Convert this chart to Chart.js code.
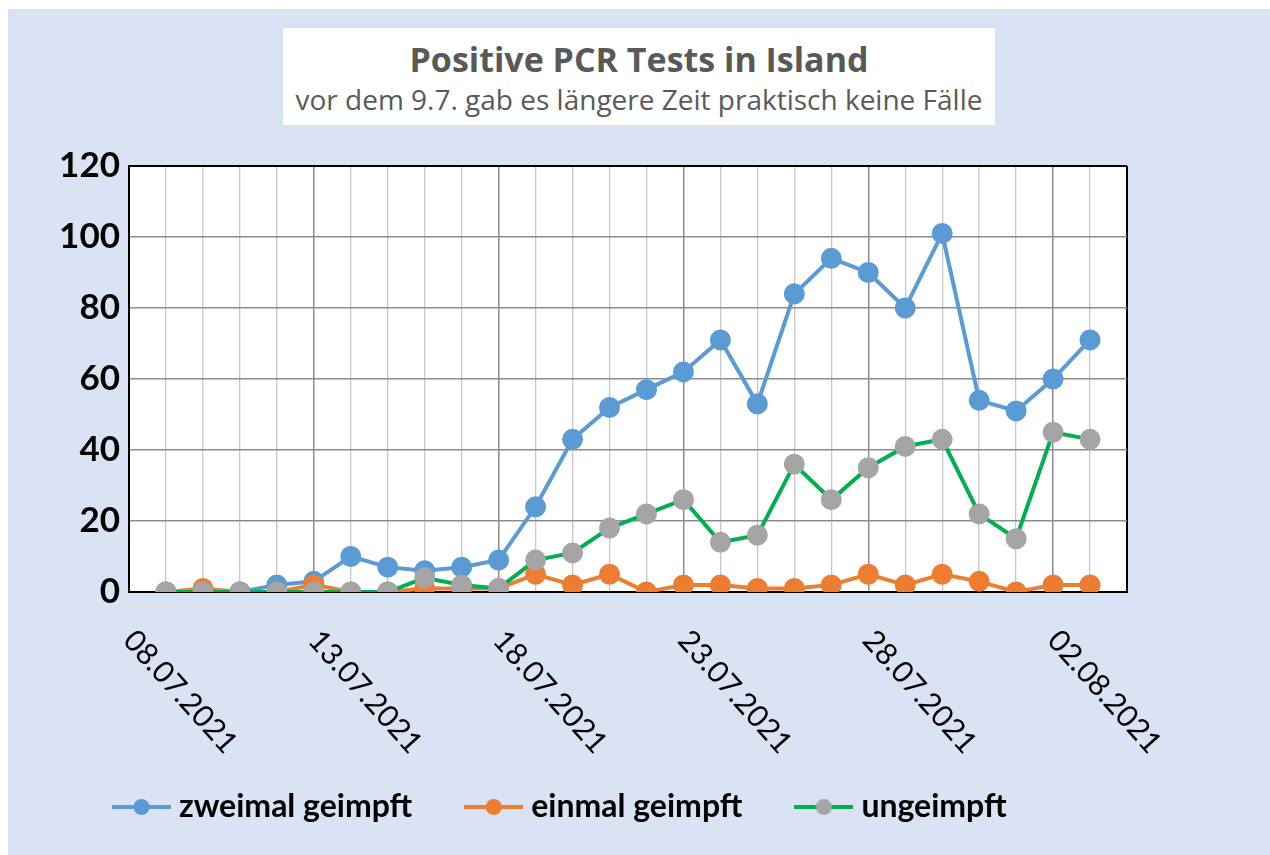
<!DOCTYPE html>
<html lang="de">
<head>
<meta charset="utf-8">
<title>Positive PCR Tests in Island</title>
<script src="https://cdn.jsdelivr.net/npm/chart.js@4"></script>
<style>
    body { margin: 0; background: #fff; }
    #rahmen {
        position: absolute; left: 8px; top: 9px;
        width: 1262px; height: 846px;
        background: #dae3f3;
    }
    #titelBox {
        position: absolute; left: 275px; top: 19px;
        width: 712px; height: 97px;
        background: #fff;
        text-align: center;
        color: #595959;
        font-family: "Open Sans", Lato, sans-serif;
    }
    #titelBox .haupt { font-size: 34px; font-weight: bold; line-height: 42px; margin-top: 10px; }
    #titelBox .unter { font-size: 28px; line-height: 36px; margin-top: 1px; }
</style>
</head>
<body>
<div id="rahmen">
    <canvas id="pcrChart"></canvas>
    <div id="titelBox">
        <div class="haupt">Positive PCR Tests in Island</div>
        <div class="unter">vor dem 9.7. gab es längere Zeit praktisch keine Fälle</div>
    </div>
</div>
<script>
// Achse läuft vom 08.07. bis 04.08., Daten gibt es vom 09.07. bis 03.08.
const tage = [
    "08.07.2021", "09.07.2021", "10.07.2021", "11.07.2021", "12.07.2021", "13.07.2021", "14.07.2021",
    "15.07.2021", "16.07.2021", "17.07.2021", "18.07.2021", "19.07.2021", "20.07.2021", "21.07.2021",
    "22.07.2021", "23.07.2021", "24.07.2021", "25.07.2021", "26.07.2021", "27.07.2021", "28.07.2021",
    "29.07.2021", "30.07.2021", "31.07.2021", "01.08.2021", "02.08.2021", "03.08.2021", "04.08.2021"
];

const zweimalGeimpft = [null, 0, 0, 0, 2, 3, 10, 7, 6, 7, 9, 24, 43, 52, 57, 62, 71, 53, 84, 94, 90, 80, 101, 54, 51, 60, 71, null];
const einmalGeimpft  = [null, 0, 1, 0, 0, 2, 0, 0, 1, 1, 1, 5, 2, 5, 0, 2, 2, 1, 1, 2, 5, 2, 5, 3, 0, 2, 2, null];
const ungeimpft      = [null, 0, 0, 0, 0, 0, 0, 0, 4, 2, 1, 9, 11, 18, 22, 26, 14, 16, 36, 26, 35, 41, 43, 22, 15, 45, 43, null];

const yTicks = [0, 20, 40, 60, 80, 100, 120];

const blau = "#5b9bd5";
const orange = "#ed7d31";
const gruen = "#00b050";
const grau = "#a5a5a5";

// kleines Symbol für die Legende: Linie mit Punkt in der Mitte
function legendenSymbol(linie, punkt) {
    const c = document.createElement("canvas");
    c.width = 59;
    c.height = 20;
    const g = c.getContext("2d");
    g.strokeStyle = linie;
    g.lineWidth = 4;
    g.beginPath();
    g.moveTo(0, 10);
    g.lineTo(59, 10);
    g.stroke();
    g.fillStyle = punkt;
    g.beginPath();
    g.arc(29.5, 10, 8, 0, 2 * Math.PI);
    g.fill();
    return c;
}
const symbole = [legendenSymbol(blau, blau), legendenSymbol(orange, orange), legendenSymbol(gruen, grau)];

// weißer Hintergrund der Zeichenfläche
const plotHintergrund = {
    id: "plotHintergrund",
    beforeDraw(chart) {
        const { ctx, chartArea } = chart;
        ctx.save();
        ctx.fillStyle = "#fff";
        ctx.fillRect(chartArea.left, chartArea.top, chartArea.right - chartArea.left, chartArea.bottom - chartArea.top);
        ctx.restore();
    }
};

// Datumsbeschriftung schräg nach unten (wie in Excel), alle 5 Tage
const datumsLabels = {
    id: "datumsLabels",
    afterDraw(chart) {
        const { ctx, chartArea } = chart;
        const x = chart.scales.x;
        ctx.save();
        ctx.font = "30px Lato, 'Open Sans', sans-serif";
        ctx.fillStyle = "#000";
        ctx.textAlign = "left";
        ctx.textBaseline = "middle";
        tage.forEach((tag, i) => {
            if (i % 5 !== 0) return;
            ctx.save();
            ctx.translate(x.getPixelForValue(i), chartArea.bottom + 43);
            ctx.rotate(48 * Math.PI / 180);
            ctx.fillText(tag, 0, 0);
            ctx.restore();
        });
        ctx.restore();
    }
};

function linie(label, daten, linienFarbe, punktFarbe, reihenfolge) {
    return {
        label,
        data: daten,
        borderColor: linienFarbe,
        backgroundColor: punktFarbe,
        pointBackgroundColor: punktFarbe,
        pointBorderColor: punktFarbe,
        pointRadius: 8.5,
        pointHoverRadius: 8.5,
        borderWidth: 4,
        tension: 0,
        order: reihenfolge
    };
}

const ctx = document.getElementById("pcrChart").getContext("2d");
new Chart(ctx, {
    type: "line",
    data: {
        labels: tage,
        datasets: [
            linie("zweimal geimpft", zweimalGeimpft, blau, blau, 3),
            linie("einmal geimpft", einmalGeimpft, orange, orange, 2),
            linie("ungeimpft", ungeimpft, gruen, grau, 1)
        ]
    },
    options: {
        responsive: true,
        maintainAspectRatio: false,
        animation: false,
        layout: {
            padding: { left: 52, right: 143, top: 157, bottom: 22 }
        },
        scales: {
            x: {
                offset: false,
                ticks: { display: false, autoSkip: false },
                grid: {
                    drawTicks: false,
                    color: (c) => {
                        if (c.index === 0 || c.index === tage.length - 1) return "#000";
                        return c.index % 5 === 0 ? "#8c8c8c" : "#c6c6c6";
                    },
                    lineWidth: (c) => (c.index === 0 || c.index === tage.length - 1) ? 2 : (c.index % 5 === 0 ? 1.5 : 1.3)
                },
                border: { display: true, color: "#000", width: 2 },
                afterFit: (scale) => { scale.height = 139; }
            },
            y: {
                min: 0,
                max: 120,
                afterBuildTicks: (scale) => { scale.ticks = yTicks.map(v => ({ value: v })); },
                afterFit: (scale) => { scale.width = 69; },
                ticks: {
                    padding: 9,
                    color: "#000",
                    font: { family: "Lato, 'Open Sans', sans-serif", size: 35, weight: "bold" }
                },
                grid: {
                    drawTicks: false,
                    color: (c) => (c.tick.value === 0 || c.tick.value === 120) ? "#000" : "#8c8c8c",
                    lineWidth: (c) => (c.tick.value === 0 || c.tick.value === 120) ? 2 : 1.5
                },
                border: { display: true, color: "#000", width: 2 }
            }
        },
        plugins: {
            legend: {
                position: "bottom",
                align: "start",
                labels: {
                    usePointStyle: true,
                    pointStyleWidth: 43,
                    padding: 60,
                    color: "#000",
                    font: { family: "Lato, 'Open Sans', sans-serif", size: 32, weight: "bold" },
                    sort: (a, b) => a.datasetIndex - b.datasetIndex,
                    generateLabels: (chart) => {
                        const items = Chart.defaults.plugins.legend.labels.generateLabels(chart);
                        items.forEach(it => { it.pointStyle = symbole[it.datasetIndex]; });
                        return items;
                    }
                }
            },
            tooltip: { enabled: false }
        }
    },
    plugins: [plotHintergrund, datumsLabels]
});
</script>
</body>
</html>
